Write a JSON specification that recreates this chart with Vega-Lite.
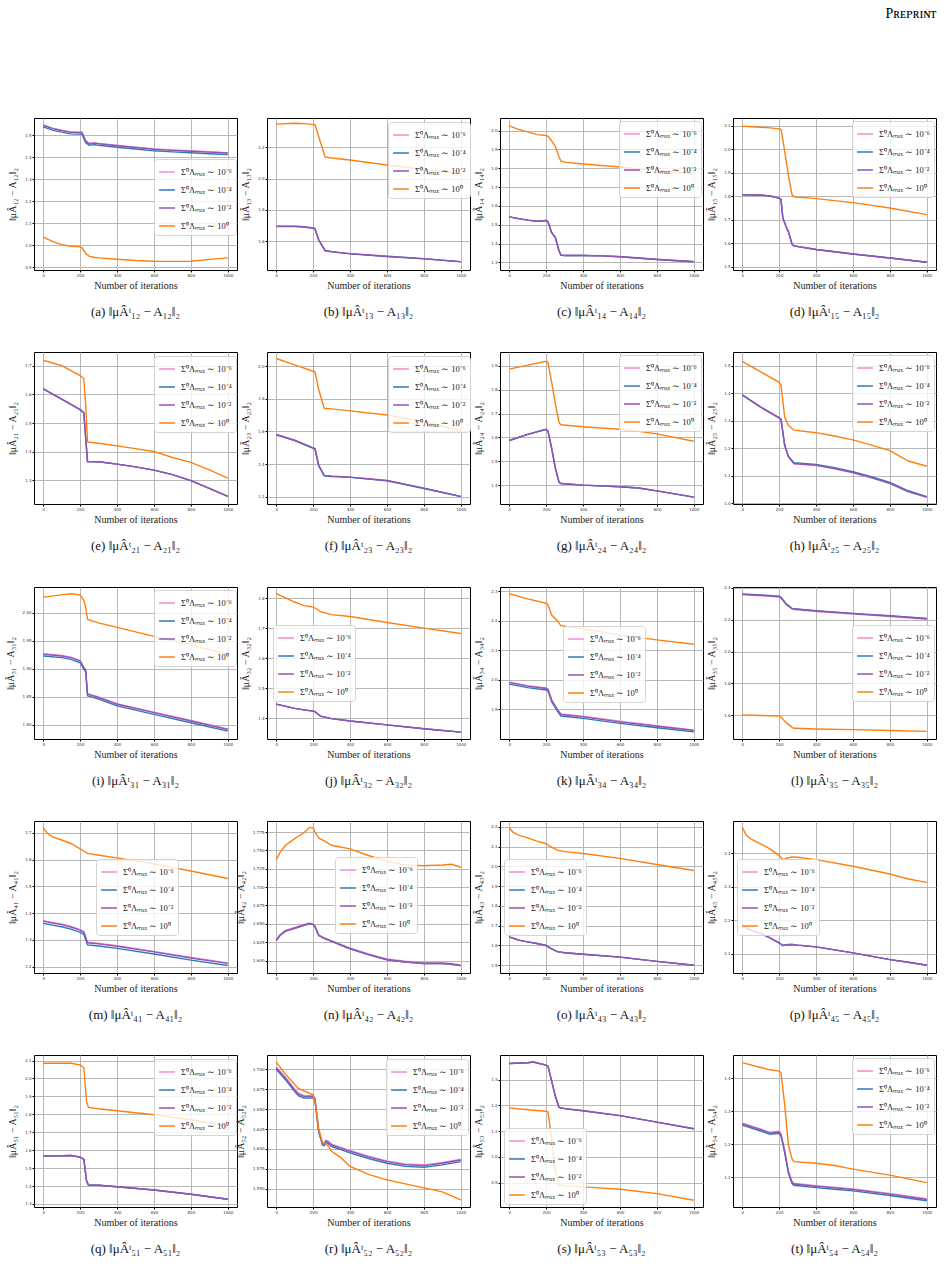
{
  "$schema": "https://vega.github.io/schema/vega-lite/v6.json",
  "padding": {"left": 4, "top": 6, "right": 8, "bottom": 0},
  "background": "white",
  "spacing": 31,
  "title": {"text": "Pʀᴇᴘʀɪɴᴛ", "orient": "top", "anchor": "end", "fontSize": 14, "offset": 97, "color": "#000"},
  "resolve": {"scale": {"color": "independent"}, "legend": {"color": "independent"}},
  "data": {"values": [
    {"p":"a","x":0,"s6":1.547,"s4":1.538,"s2":1.545,"s0":1.037},
    {"p":"a","x":50,"s6":1.532,"s4":1.523,"s2":1.530,"s0":1.018},
    {"p":"a","x":100,"s6":1.523,"s4":1.514,"s2":1.521,"s0":1.003},
    {"p":"a","x":150,"s6":1.515,"s4":1.506,"s2":1.513,"s0":0.996},
    {"p":"a","x":200,"s6":1.514,"s4":1.505,"s2":1.512,"s0":0.993},
    {"p":"a","x":210,"s6":1.514,"s4":1.505,"s2":1.512,"s0":0.990},
    {"p":"a","x":230,"s6":1.475,"s4":1.466,"s2":1.473,"s0":0.963},
    {"p":"a","x":250,"s6":1.463,"s4":1.454,"s2":1.461,"s0":0.950},
    {"p":"a","x":280,"s6":1.466,"s4":1.457,"s2":1.464,"s0":0.945},
    {"p":"a","x":300,"s6":1.463,"s4":1.454,"s2":1.461,"s0":0.943},
    {"p":"a","x":400,"s6":1.454,"s4":1.445,"s2":1.452,"s0":0.937},
    {"p":"a","x":500,"s6":1.446,"s4":1.437,"s2":1.444,"s0":0.931},
    {"p":"a","x":600,"s6":1.438,"s4":1.429,"s2":1.436,"s0":0.928},
    {"p":"a","x":700,"s6":1.433,"s4":1.424,"s2":1.431,"s0":0.927},
    {"p":"a","x":800,"s6":1.429,"s4":1.420,"s2":1.427,"s0":0.928},
    {"p":"a","x":900,"s6":1.425,"s4":1.416,"s2":1.423,"s0":0.936},
    {"p":"a","x":1000,"s6":1.421,"s4":1.412,"s2":1.419,"s0":0.943},

    {"p":"b","x":0,"s6":1.695,"s4":1.693,"s2":1.695,"s0":2.350},
    {"p":"b","x":100,"s6":1.695,"s4":1.693,"s2":1.695,"s0":2.355},
    {"p":"b","x":150,"s6":1.692,"s4":1.690,"s2":1.692,"s0":2.353},
    {"p":"b","x":200,"s6":1.684,"s4":1.682,"s2":1.684,"s0":2.348},
    {"p":"b","x":210,"s6":1.680,"s4":1.678,"s2":1.680,"s0":2.346},
    {"p":"b","x":230,"s6":1.609,"s4":1.607,"s2":1.609,"s0":2.270},
    {"p":"b","x":265,"s6":1.540,"s4":1.538,"s2":1.540,"s0":2.140},
    {"p":"b","x":300,"s6":1.533,"s4":1.531,"s2":1.533,"s0":2.133},
    {"p":"b","x":400,"s6":1.520,"s4":1.518,"s2":1.520,"s0":2.120},
    {"p":"b","x":600,"s6":1.503,"s4":1.501,"s2":1.503,"s0":2.088},
    {"p":"b","x":800,"s6":1.488,"s4":1.486,"s2":1.488,"s0":2.060},
    {"p":"b","x":1000,"s6":1.469,"s4":1.467,"s2":1.469,"s0":2.032},

    {"p":"c","x":0,"s6":1.542,"s4":1.542,"s2":1.542,"s0":2.025},
    {"p":"c","x":50,"s6":1.533,"s4":1.533,"s2":1.533,"s0":2.007},
    {"p":"c","x":100,"s6":1.525,"s4":1.525,"s2":1.525,"s0":1.993},
    {"p":"c","x":150,"s6":1.519,"s4":1.519,"s2":1.519,"s0":1.979},
    {"p":"c","x":200,"s6":1.523,"s4":1.523,"s2":1.523,"s0":1.974},
    {"p":"c","x":210,"s6":1.516,"s4":1.516,"s2":1.516,"s0":1.970},
    {"p":"c","x":230,"s6":1.458,"s4":1.458,"s2":1.458,"s0":1.945},
    {"p":"c","x":250,"s6":1.432,"s4":1.432,"s2":1.432,"s0":1.915},
    {"p":"c","x":270,"s6":1.361,"s4":1.361,"s2":1.361,"s0":1.860},
    {"p":"c","x":280,"s6":1.339,"s4":1.339,"s2":1.339,"s0":1.839},
    {"p":"c","x":300,"s6":1.337,"s4":1.337,"s2":1.337,"s0":1.833},
    {"p":"c","x":400,"s6":1.337,"s4":1.337,"s2":1.337,"s0":1.823},
    {"p":"c","x":500,"s6":1.336,"s4":1.335,"s2":1.335,"s0":1.815},
    {"p":"c","x":600,"s6":1.332,"s4":1.330,"s2":1.330,"s0":1.807},
    {"p":"c","x":800,"s6":1.318,"s4":1.316,"s2":1.316,"s0":1.789},
    {"p":"c","x":1000,"s6":1.305,"s4":1.304,"s2":1.304,"s0":1.770},

    {"p":"d","x":0,"s6":1.806,"s4":1.806,"s2":1.806,"s0":2.097},
    {"p":"d","x":100,"s6":1.805,"s4":1.805,"s2":1.805,"s0":2.093},
    {"p":"d","x":150,"s6":1.801,"s4":1.801,"s2":1.801,"s0":2.090},
    {"p":"d","x":200,"s6":1.792,"s4":1.792,"s2":1.792,"s0":2.086},
    {"p":"d","x":210,"s6":1.787,"s4":1.787,"s2":1.787,"s0":2.083},
    {"p":"d","x":220,"s6":1.708,"s4":1.708,"s2":1.708,"s0":2.040},
    {"p":"d","x":240,"s6":1.666,"s4":1.666,"s2":1.666,"s0":1.940},
    {"p":"d","x":250,"s6":1.650,"s4":1.650,"s2":1.650,"s0":1.890},
    {"p":"d","x":270,"s6":1.597,"s4":1.597,"s2":1.597,"s0":1.806},
    {"p":"d","x":280,"s6":1.589,"s4":1.589,"s2":1.589,"s0":1.798},
    {"p":"d","x":400,"s6":1.574,"s4":1.574,"s2":1.574,"s0":1.790},
    {"p":"d","x":600,"s6":1.555,"s4":1.555,"s2":1.555,"s0":1.773},
    {"p":"d","x":800,"s6":1.538,"s4":1.538,"s2":1.538,"s0":1.750},
    {"p":"d","x":1000,"s6":1.520,"s4":1.520,"s2":1.520,"s0":1.722},

    {"p":"e","x":0,"s6":1.620,"s4":1.620,"s2":1.620,"s0":1.720},
    {"p":"e","x":100,"s6":1.584,"s4":1.584,"s2":1.584,"s0":1.701},
    {"p":"e","x":200,"s6":1.547,"s4":1.547,"s2":1.547,"s0":1.666},
    {"p":"e","x":220,"s6":1.536,"s4":1.536,"s2":1.536,"s0":1.656},
    {"p":"e","x":230,"s6":1.449,"s4":1.449,"s2":1.449,"s0":1.565},
    {"p":"e","x":240,"s6":1.365,"s4":1.365,"s2":1.365,"s0":1.434},
    {"p":"e","x":300,"s6":1.364,"s4":1.364,"s2":1.364,"s0":1.429},
    {"p":"e","x":400,"s6":1.356,"s4":1.356,"s2":1.356,"s0":1.420},
    {"p":"e","x":500,"s6":1.346,"s4":1.346,"s2":1.346,"s0":1.410},
    {"p":"e","x":600,"s6":1.335,"s4":1.335,"s2":1.335,"s0":1.400},
    {"p":"e","x":700,"s6":1.319,"s4":1.319,"s2":1.319,"s0":1.379},
    {"p":"e","x":800,"s6":1.298,"s4":1.298,"s2":1.298,"s0":1.362},
    {"p":"e","x":900,"s6":1.271,"s4":1.271,"s2":1.271,"s0":1.336},
    {"p":"e","x":1000,"s6":1.243,"s4":1.243,"s2":1.243,"s0":1.307},

    {"p":"f","x":0,"s6":1.581,"s4":1.579,"s2":1.581,"s0":2.047},
    {"p":"f","x":100,"s6":1.546,"s4":1.544,"s2":1.546,"s0":2.008},
    {"p":"f","x":200,"s6":1.499,"s4":1.497,"s2":1.499,"s0":1.969},
    {"p":"f","x":210,"s6":1.495,"s4":1.493,"s2":1.495,"s0":1.965},
    {"p":"f","x":230,"s6":1.392,"s4":1.390,"s2":1.392,"s0":1.856},
    {"p":"f","x":260,"s6":1.330,"s4":1.328,"s2":1.330,"s0":1.742},
    {"p":"f","x":300,"s6":1.326,"s4":1.324,"s2":1.326,"s0":1.738},
    {"p":"f","x":400,"s6":1.320,"s4":1.318,"s2":1.320,"s0":1.726},
    {"p":"f","x":600,"s6":1.299,"s4":1.297,"s2":1.299,"s0":1.701},
    {"p":"f","x":800,"s6":1.252,"s4":1.250,"s2":1.252,"s0":1.660},
    {"p":"f","x":1000,"s6":1.202,"s4":1.200,"s2":1.202,"s0":1.604},

    {"p":"g","x":0,"s6":1.587,"s4":1.587,"s2":1.587,"s0":1.886},
    {"p":"g","x":100,"s6":1.613,"s4":1.613,"s2":1.613,"s0":1.903},
    {"p":"g","x":200,"s6":1.634,"s4":1.634,"s2":1.634,"s0":1.919},
    {"p":"g","x":210,"s6":1.626,"s4":1.626,"s2":1.626,"s0":1.914},
    {"p":"g","x":230,"s6":1.554,"s4":1.554,"s2":1.554,"s0":1.831},
    {"p":"g","x":250,"s6":1.471,"s4":1.471,"s2":1.471,"s0":1.741},
    {"p":"g","x":270,"s6":1.412,"s4":1.412,"s2":1.412,"s0":1.662},
    {"p":"g","x":280,"s6":1.407,"s4":1.407,"s2":1.407,"s0":1.653},
    {"p":"g","x":400,"s6":1.400,"s4":1.400,"s2":1.400,"s0":1.645},
    {"p":"g","x":600,"s6":1.393,"s4":1.393,"s2":1.393,"s0":1.634},
    {"p":"g","x":700,"s6":1.388,"s4":1.388,"s2":1.388,"s0":1.626},
    {"p":"g","x":800,"s6":1.376,"s4":1.376,"s2":1.376,"s0":1.615},
    {"p":"g","x":1000,"s6":1.350,"s4":1.350,"s2":1.350,"s0":1.584},

    {"p":"h","x":0,"s6":1.394,"s4":1.394,"s2":1.394,"s0":1.516},
    {"p":"h","x":100,"s6":1.350,"s4":1.350,"s2":1.350,"s0":1.478},
    {"p":"h","x":200,"s6":1.311,"s4":1.311,"s2":1.311,"s0":1.440},
    {"p":"h","x":210,"s6":1.305,"s4":1.305,"s2":1.305,"s0":1.430},
    {"p":"h","x":230,"s6":1.212,"s4":1.212,"s2":1.212,"s0":1.314},
    {"p":"h","x":250,"s6":1.170,"s4":1.171,"s2":1.170,"s0":1.284},
    {"p":"h","x":280,"s6":1.144,"s4":1.148,"s2":1.145,"s0":1.266},
    {"p":"h","x":400,"s6":1.138,"s4":1.142,"s2":1.139,"s0":1.257},
    {"p":"h","x":500,"s6":1.126,"s4":1.130,"s2":1.127,"s0":1.245},
    {"p":"h","x":600,"s6":1.111,"s4":1.115,"s2":1.112,"s0":1.231},
    {"p":"h","x":700,"s6":1.093,"s4":1.097,"s2":1.094,"s0":1.212},
    {"p":"h","x":800,"s6":1.072,"s4":1.076,"s2":1.073,"s0":1.192},
    {"p":"h","x":900,"s6":1.042,"s4":1.046,"s2":1.043,"s0":1.154},
    {"p":"h","x":1000,"s6":1.022,"s4":1.025,"s2":1.023,"s0":1.135},

    {"p":"i","x":0,"s6":1.927,"s4":1.923,"s2":1.926,"s0":2.028},
    {"p":"i","x":100,"s6":1.924,"s4":1.920,"s2":1.923,"s0":2.032},
    {"p":"i","x":150,"s6":1.921,"s4":1.917,"s2":1.920,"s0":2.034},
    {"p":"i","x":200,"s6":1.915,"s4":1.911,"s2":1.914,"s0":2.032},
    {"p":"i","x":220,"s6":1.903,"s4":1.899,"s2":1.902,"s0":2.022},
    {"p":"i","x":230,"s6":1.899,"s4":1.895,"s2":1.898,"s0":2.010},
    {"p":"i","x":240,"s6":1.856,"s4":1.852,"s2":1.855,"s0":1.988},
    {"p":"i","x":300,"s6":1.850,"s4":1.846,"s2":1.849,"s0":1.982},
    {"p":"i","x":400,"s6":1.838,"s4":1.834,"s2":1.837,"s0":1.974},
    {"p":"i","x":600,"s6":1.823,"s4":1.819,"s2":1.822,"s0":1.958},
    {"p":"i","x":800,"s6":1.808,"s4":1.804,"s2":1.807,"s0":1.943},
    {"p":"i","x":1000,"s6":1.793,"s4":1.789,"s2":1.792,"s0":1.926},

    {"p":"j","x":0,"s6":1.447,"s4":1.447,"s2":1.447,"s0":1.815},
    {"p":"j","x":100,"s6":1.433,"s4":1.433,"s2":1.433,"s0":1.787},
    {"p":"j","x":150,"s6":1.428,"s4":1.428,"s2":1.428,"s0":1.775},
    {"p":"j","x":200,"s6":1.424,"s4":1.424,"s2":1.424,"s0":1.770},
    {"p":"j","x":210,"s6":1.422,"s4":1.422,"s2":1.422,"s0":1.767},
    {"p":"j","x":240,"s6":1.407,"s4":1.407,"s2":1.407,"s0":1.755},
    {"p":"j","x":300,"s6":1.399,"s4":1.399,"s2":1.399,"s0":1.745},
    {"p":"j","x":400,"s6":1.391,"s4":1.391,"s2":1.391,"s0":1.739},
    {"p":"j","x":600,"s6":1.378,"s4":1.378,"s2":1.378,"s0":1.719},
    {"p":"j","x":800,"s6":1.365,"s4":1.365,"s2":1.365,"s0":1.700},
    {"p":"j","x":1000,"s6":1.354,"s4":1.354,"s2":1.354,"s0":1.682},

    {"p":"k","x":0,"s6":1.992,"s4":1.985,"s2":1.990,"s0":2.291},
    {"p":"k","x":100,"s6":1.980,"s4":1.973,"s2":1.978,"s0":2.274},
    {"p":"k","x":200,"s6":1.972,"s4":1.965,"s2":1.970,"s0":2.259},
    {"p":"k","x":210,"s6":1.969,"s4":1.962,"s2":1.967,"s0":2.253},
    {"p":"k","x":230,"s6":1.932,"s4":1.925,"s2":1.930,"s0":2.219},
    {"p":"k","x":260,"s6":1.901,"s4":1.894,"s2":1.899,"s0":2.200},
    {"p":"k","x":280,"s6":1.884,"s4":1.877,"s2":1.882,"s0":2.183},
    {"p":"k","x":400,"s6":1.876,"s4":1.869,"s2":1.874,"s0":2.172},
    {"p":"k","x":600,"s6":1.859,"s4":1.852,"s2":1.857,"s0":2.151},
    {"p":"k","x":800,"s6":1.844,"s4":1.837,"s2":1.842,"s0":2.135},
    {"p":"k","x":1000,"s6":1.830,"s4":1.823,"s2":1.828,"s0":2.120},

    {"p":"l","x":0,"s6":2.355,"s4":2.360,"s2":2.358,"s0":1.603},
    {"p":"l","x":100,"s6":2.349,"s4":2.354,"s2":2.352,"s0":1.599},
    {"p":"l","x":200,"s6":2.341,"s4":2.346,"s2":2.344,"s0":1.595},
    {"p":"l","x":210,"s6":2.334,"s4":2.339,"s2":2.337,"s0":1.590},
    {"p":"l","x":240,"s6":2.292,"s4":2.297,"s2":2.295,"s0":1.553},
    {"p":"l","x":270,"s6":2.265,"s4":2.270,"s2":2.268,"s0":1.525},
    {"p":"l","x":280,"s6":2.263,"s4":2.268,"s2":2.266,"s0":1.519},
    {"p":"l","x":400,"s6":2.251,"s4":2.256,"s2":2.254,"s0":1.515},
    {"p":"l","x":600,"s6":2.234,"s4":2.239,"s2":2.237,"s0":1.511},
    {"p":"l","x":800,"s6":2.219,"s4":2.224,"s2":2.222,"s0":1.505},
    {"p":"l","x":1000,"s6":2.202,"s4":2.207,"s2":2.205,"s0":1.500},

    {"p":"m","x":0,"s6":1.372,"s4":1.362,"s2":1.370,"s0":1.719},
    {"p":"m","x":20,"s6":1.369,"s4":1.359,"s2":1.367,"s0":1.700},
    {"p":"m","x":50,"s6":1.365,"s4":1.355,"s2":1.363,"s0":1.685},
    {"p":"m","x":100,"s6":1.359,"s4":1.349,"s2":1.357,"s0":1.673},
    {"p":"m","x":150,"s6":1.350,"s4":1.340,"s2":1.348,"s0":1.660},
    {"p":"m","x":200,"s6":1.338,"s4":1.328,"s2":1.336,"s0":1.640},
    {"p":"m","x":220,"s6":1.330,"s4":1.320,"s2":1.328,"s0":1.632},
    {"p":"m","x":240,"s6":1.291,"s4":1.281,"s2":1.289,"s0":1.623},
    {"p":"m","x":300,"s6":1.287,"s4":1.277,"s2":1.285,"s0":1.616},
    {"p":"m","x":400,"s6":1.278,"s4":1.268,"s2":1.276,"s0":1.606},
    {"p":"m","x":600,"s6":1.257,"s4":1.247,"s2":1.255,"s0":1.584},
    {"p":"m","x":800,"s6":1.234,"s4":1.224,"s2":1.232,"s0":1.557},
    {"p":"m","x":1000,"s6":1.214,"s4":1.204,"s2":1.212,"s0":1.529},

    {"p":"n","x":0,"s6":1.628,"s4":1.627,"s2":1.627,"s0":1.737},
    {"p":"n","x":20,"s6":1.635,"s4":1.634,"s2":1.634,"s0":1.747},
    {"p":"n","x":50,"s6":1.641,"s4":1.640,"s2":1.640,"s0":1.757},
    {"p":"n","x":100,"s6":1.645,"s4":1.644,"s2":1.644,"s0":1.766},
    {"p":"n","x":150,"s6":1.649,"s4":1.648,"s2":1.648,"s0":1.774},
    {"p":"n","x":180,"s6":1.651,"s4":1.650,"s2":1.650,"s0":1.781},
    {"p":"n","x":200,"s6":1.650,"s4":1.649,"s2":1.649,"s0":1.781},
    {"p":"n","x":210,"s6":1.647,"s4":1.646,"s2":1.646,"s0":1.775},
    {"p":"n","x":230,"s6":1.635,"s4":1.634,"s2":1.634,"s0":1.767},
    {"p":"n","x":260,"s6":1.631,"s4":1.630,"s2":1.630,"s0":1.763},
    {"p":"n","x":300,"s6":1.627,"s4":1.626,"s2":1.626,"s0":1.757},
    {"p":"n","x":400,"s6":1.617,"s4":1.616,"s2":1.616,"s0":1.752},
    {"p":"n","x":500,"s6":1.609,"s4":1.608,"s2":1.608,"s0":1.743},
    {"p":"n","x":600,"s6":1.602,"s4":1.601,"s2":1.601,"s0":1.735},
    {"p":"n","x":700,"s6":1.599,"s4":1.598,"s2":1.598,"s0":1.730},
    {"p":"n","x":800,"s6":1.597,"s4":1.596,"s2":1.596,"s0":1.729},
    {"p":"n","x":900,"s6":1.597,"s4":1.596,"s2":1.596,"s0":1.730},
    {"p":"n","x":950,"s6":1.596,"s4":1.595,"s2":1.595,"s0":1.731},
    {"p":"n","x":1000,"s6":1.594,"s4":1.593,"s2":1.593,"s0":1.727},

    {"p":"o","x":0,"s6":1.643,"s4":1.643,"s2":1.643,"s0":2.195},
    {"p":"o","x":20,"s6":1.637,"s4":1.637,"s2":1.637,"s0":2.173},
    {"p":"o","x":50,"s6":1.627,"s4":1.627,"s2":1.627,"s0":2.158},
    {"p":"o","x":100,"s6":1.618,"s4":1.618,"s2":1.618,"s0":2.144},
    {"p":"o","x":150,"s6":1.610,"s4":1.610,"s2":1.610,"s0":2.127},
    {"p":"o","x":200,"s6":1.600,"s4":1.600,"s2":1.600,"s0":2.114},
    {"p":"o","x":220,"s6":1.588,"s4":1.588,"s2":1.588,"s0":2.102},
    {"p":"o","x":260,"s6":1.569,"s4":1.569,"s2":1.569,"s0":2.082},
    {"p":"o","x":300,"s6":1.563,"s4":1.563,"s2":1.563,"s0":2.074},
    {"p":"o","x":400,"s6":1.556,"s4":1.556,"s2":1.556,"s0":2.065},
    {"p":"o","x":600,"s6":1.541,"s4":1.541,"s2":1.541,"s0":2.040},
    {"p":"o","x":800,"s6":1.520,"s4":1.520,"s2":1.520,"s0":2.009},
    {"p":"o","x":1000,"s6":1.500,"s4":1.500,"s2":1.500,"s0":1.979},

    {"p":"p","x":0,"s6":2.183,"s4":2.183,"s2":2.183,"s0":2.478},
    {"p":"p","x":20,"s6":2.178,"s4":2.178,"s2":2.178,"s0":2.455},
    {"p":"p","x":50,"s6":2.170,"s4":2.170,"s2":2.170,"s0":2.441},
    {"p":"p","x":100,"s6":2.161,"s4":2.161,"s2":2.161,"s0":2.428},
    {"p":"p","x":150,"s6":2.148,"s4":2.148,"s2":2.148,"s0":2.413},
    {"p":"p","x":200,"s6":2.133,"s4":2.133,"s2":2.133,"s0":2.393},
    {"p":"p","x":220,"s6":2.125,"s4":2.125,"s2":2.125,"s0":2.381},
    {"p":"p","x":240,"s6":2.127,"s4":2.127,"s2":2.127,"s0":2.385},
    {"p":"p","x":270,"s6":2.128,"s4":2.128,"s2":2.128,"s0":2.389},
    {"p":"p","x":300,"s6":2.126,"s4":2.126,"s2":2.126,"s0":2.388},
    {"p":"p","x":400,"s6":2.121,"s4":2.121,"s2":2.121,"s0":2.381},
    {"p":"p","x":600,"s6":2.103,"s4":2.103,"s2":2.103,"s0":2.361},
    {"p":"p","x":800,"s6":2.083,"s4":2.083,"s2":2.083,"s0":2.338},
    {"p":"p","x":900,"s6":2.075,"s4":2.075,"s2":2.075,"s0":2.323},
    {"p":"p","x":1000,"s6":2.066,"s4":2.066,"s2":2.066,"s0":2.313},

    {"p":"q","x":0,"s6":1.567,"s4":1.567,"s2":1.567,"s0":2.085},
    {"p":"q","x":150,"s6":1.570,"s4":1.570,"s2":1.570,"s0":2.085},
    {"p":"q","x":200,"s6":1.561,"s4":1.561,"s2":1.561,"s0":2.076},
    {"p":"q","x":220,"s6":1.548,"s4":1.548,"s2":1.548,"s0":2.061},
    {"p":"q","x":235,"s6":1.428,"s4":1.428,"s2":1.428,"s0":1.872},
    {"p":"q","x":245,"s6":1.406,"s4":1.406,"s2":1.406,"s0":1.839},
    {"p":"q","x":300,"s6":1.404,"s4":1.404,"s2":1.404,"s0":1.831},
    {"p":"q","x":400,"s6":1.396,"s4":1.396,"s2":1.396,"s0":1.820},
    {"p":"q","x":600,"s6":1.378,"s4":1.378,"s2":1.378,"s0":1.798},
    {"p":"q","x":800,"s6":1.354,"s4":1.354,"s2":1.354,"s0":1.770},
    {"p":"q","x":1000,"s6":1.326,"s4":1.326,"s2":1.326,"s0":1.733},

    {"p":"r","x":0,"s6":1.703,"s4":1.700,"s2":1.702,"s0":1.709},
    {"p":"r","x":50,"s6":1.690,"s4":1.687,"s2":1.689,"s0":1.694},
    {"p":"r","x":100,"s6":1.675,"s4":1.672,"s2":1.674,"s0":1.681},
    {"p":"r","x":120,"s6":1.670,"s4":1.667,"s2":1.669,"s0":1.676},
    {"p":"r","x":150,"s6":1.667,"s4":1.664,"s2":1.666,"s0":1.673},
    {"p":"r","x":200,"s6":1.667,"s4":1.664,"s2":1.666,"s0":1.668},
    {"p":"r","x":210,"s6":1.664,"s4":1.661,"s2":1.663,"s0":1.659},
    {"p":"r","x":230,"s6":1.624,"s4":1.621,"s2":1.623,"s0":1.625},
    {"p":"r","x":250,"s6":1.608,"s4":1.605,"s2":1.607,"s0":1.608},
    {"p":"r","x":260,"s6":1.607,"s4":1.604,"s2":1.606,"s0":1.607},
    {"p":"r","x":270,"s6":1.611,"s4":1.608,"s2":1.610,"s0":1.607},
    {"p":"r","x":280,"s6":1.610,"s4":1.607,"s2":1.609,"s0":1.604},
    {"p":"r","x":300,"s6":1.606,"s4":1.603,"s2":1.605,"s0":1.597},
    {"p":"r","x":350,"s6":1.602,"s4":1.599,"s2":1.601,"s0":1.589},
    {"p":"r","x":400,"s6":1.598,"s4":1.595,"s2":1.597,"s0":1.578},
    {"p":"r","x":500,"s6":1.591,"s4":1.588,"s2":1.590,"s0":1.568},
    {"p":"r","x":600,"s6":1.585,"s4":1.582,"s2":1.584,"s0":1.561},
    {"p":"r","x":700,"s6":1.581,"s4":1.578,"s2":1.580,"s0":1.556},
    {"p":"r","x":800,"s6":1.580,"s4":1.577,"s2":1.579,"s0":1.551},
    {"p":"r","x":900,"s6":1.583,"s4":1.580,"s2":1.582,"s0":1.546},
    {"p":"r","x":1000,"s6":1.587,"s4":1.584,"s2":1.586,"s0":1.536},

    {"p":"s","x":0,"s6":1.362,"s4":1.362,"s2":1.362,"s0":1.190},
    {"p":"s","x":100,"s6":1.365,"s4":1.365,"s2":1.365,"s0":1.183},
    {"p":"s","x":130,"s6":1.368,"s4":1.368,"s2":1.368,"s0":1.181},
    {"p":"s","x":200,"s6":1.356,"s4":1.356,"s2":1.356,"s0":1.177},
    {"p":"s","x":210,"s6":1.352,"s4":1.352,"s2":1.352,"s0":1.174},
    {"p":"s","x":230,"s6":1.294,"s4":1.294,"s2":1.294,"s0":1.073},
    {"p":"s","x":250,"s6":1.235,"s4":1.235,"s2":1.235,"s0":0.943},
    {"p":"s","x":270,"s6":1.192,"s4":1.192,"s2":1.192,"s0":0.891},
    {"p":"s","x":300,"s6":1.187,"s4":1.187,"s2":1.187,"s0":0.888},
    {"p":"s","x":400,"s6":1.179,"s4":1.179,"s2":1.179,"s0":0.884},
    {"p":"s","x":600,"s6":1.160,"s4":1.160,"s2":1.160,"s0":0.875},
    {"p":"s","x":800,"s6":1.135,"s4":1.135,"s2":1.135,"s0":0.858},
    {"p":"s","x":1000,"s6":1.109,"s4":1.109,"s2":1.109,"s0":0.832},

    {"p":"t","x":0,"s6":1.264,"s4":1.258,"s2":1.262,"s0":1.448},
    {"p":"t","x":100,"s6":1.246,"s4":1.240,"s2":1.244,"s0":1.433},
    {"p":"t","x":150,"s6":1.236,"s4":1.230,"s2":1.234,"s0":1.426},
    {"p":"t","x":200,"s6":1.239,"s4":1.233,"s2":1.237,"s0":1.422},
    {"p":"t","x":210,"s6":1.231,"s4":1.225,"s2":1.229,"s0":1.417},
    {"p":"t","x":230,"s6":1.180,"s4":1.174,"s2":1.178,"s0":1.320},
    {"p":"t","x":250,"s6":1.118,"s4":1.112,"s2":1.116,"s0":1.198},
    {"p":"t","x":270,"s6":1.086,"s4":1.080,"s2":1.084,"s0":1.155},
    {"p":"t","x":280,"s6":1.081,"s4":1.075,"s2":1.079,"s0":1.147},
    {"p":"t","x":400,"s6":1.074,"s4":1.068,"s2":1.072,"s0":1.142},
    {"p":"t","x":500,"s6":1.069,"s4":1.063,"s2":1.067,"s0":1.135},
    {"p":"t","x":600,"s6":1.064,"s4":1.058,"s2":1.062,"s0":1.124},
    {"p":"t","x":800,"s6":1.050,"s4":1.044,"s2":1.048,"s0":1.106},
    {"p":"t","x":1000,"s6":1.034,"s4":1.028,"s2":1.032,"s0":1.083}
  ]},
  "vconcat": [
    {"hconcat": [
      {"width":203,"height":152,"title":"(a) ‖μÂᵗ₁₂ − A₁₂‖₂",
       "transform":[{"filter":"datum.p=='a'"},{"fold":["s6","s4","s2","s0"],"as":["k","v"]}],
       "mark":{"type":"line","strokeWidth":1.4},
       "encoding":{
        "x":{"field":"x","type":"quantitative","scale":{"domain":[-50,1050],"nice":false},"axis":{"values":[0,200,400,600,800,1000],"format":"d","title":"Number of iterations"}},
        "y":{"field":"v","type":"quantitative","scale":{"domain":[0.888,1.578],"nice":false,"zero":false},"axis":{"values":[0.9,1.0,1.1,1.2,1.3,1.4,1.5],"format":".1f","title":"‖μÂ₁₂ − A₁₂‖₂"}},
        "color":{"field":"k","type":"nominal","scale":{"domain":["s6","s4","s2","s0"],"range":["#f28cd0","#2f78b8","#9055b5","#ff7f0e"]},
         "legend":{"orient":"none","legendX":120,"legendY":41,"title":null,"labelExpr":"datum.label=='s6'?'Σ⁰Λₘₐₓ ∼ 10⁻⁶':datum.label=='s4'?'Σ⁰Λₘₐₓ ∼ 10⁻⁴':datum.label=='s2'?'Σ⁰Λₘₐₓ ∼ 10⁻²':'Σ⁰Λₘₐₓ ∼ 10⁰'"}}}},
      {"width":203,"height":152,"title":"(b) ‖μÂᵗ₁₃ − A₁₃‖₂",
       "transform":[{"filter":"datum.p=='b'"},{"fold":["s6","s4","s2","s0"],"as":["k","v"]}],
       "mark":{"type":"line","strokeWidth":1.4},
       "encoding":{
        "x":{"field":"x","type":"quantitative","scale":{"domain":[-50,1050],"nice":false},"axis":{"values":[0,200,400,600,800,1000],"format":"d","title":"Number of iterations"}},
        "y":{"field":"v","type":"quantitative","scale":{"domain":[1.415,2.389],"nice":false,"zero":false},"axis":{"values":[1.6,1.8,2.0,2.2],"format":".1f","title":"‖μÂ₁₃ − A₁₃‖₂"}},
        "color":{"field":"k","type":"nominal","scale":{"domain":["s6","s4","s2","s0"],"range":["#f28cd0","#2f78b8","#9055b5","#ff7f0e"]},
         "legend":{"orient":"none","legendX":121,"legendY":4,"title":null,"labelExpr":"datum.label=='s6'?'Σ⁰Λₘₐₓ ∼ 10⁻⁶':datum.label=='s4'?'Σ⁰Λₘₐₓ ∼ 10⁻⁴':datum.label=='s2'?'Σ⁰Λₘₐₓ ∼ 10⁻²':'Σ⁰Λₘₐₓ ∼ 10⁰'"}}}},
      {"width":203,"height":152,"title":"(c) ‖μÂᵗ₁₄ − A₁₄‖₂",
       "transform":[{"filter":"datum.p=='c'"},{"fold":["s6","s4","s2","s0"],"as":["k","v"]}],
       "mark":{"type":"line","strokeWidth":1.4},
       "encoding":{
        "x":{"field":"x","type":"quantitative","scale":{"domain":[-50,1050],"nice":false},"axis":{"values":[0,200,400,600,800,1000],"format":"d","title":"Number of iterations"}},
        "y":{"field":"v","type":"quantitative","scale":{"domain":[1.26,2.067],"nice":false,"zero":false},"axis":{"values":[1.3,1.4,1.5,1.6,1.7,1.8,1.9,2.0],"format":".1f","title":"‖μÂ₁₄ − A₁₄‖₂"}},
        "color":{"field":"k","type":"nominal","scale":{"domain":["s6","s4","s2","s0"],"range":["#f28cd0","#2f78b8","#9055b5","#ff7f0e"]},
         "legend":{"orient":"none","legendX":119,"legendY":3,"title":null,"labelExpr":"datum.label=='s6'?'Σ⁰Λₘₐₓ ∼ 10⁻⁶':datum.label=='s4'?'Σ⁰Λₘₐₓ ∼ 10⁻⁴':datum.label=='s2'?'Σ⁰Λₘₐₓ ∼ 10⁻²':'Σ⁰Λₘₐₓ ∼ 10⁰'"}}}},
      {"width":203,"height":152,"title":"(d) ‖μÂᵗ₁₅ − A₁₅‖₂",
       "transform":[{"filter":"datum.p=='d'"},{"fold":["s6","s4","s2","s0"],"as":["k","v"]}],
       "mark":{"type":"line","strokeWidth":1.4},
       "encoding":{
        "x":{"field":"x","type":"quantitative","scale":{"domain":[-50,1050],"nice":false},"axis":{"values":[0,200,400,600,800,1000],"format":"d","title":"Number of iterations"}},
        "y":{"field":"v","type":"quantitative","scale":{"domain":[1.487,2.132],"nice":false,"zero":false},"axis":{"values":[1.5,1.6,1.7,1.8,1.9,2.0,2.1],"format":".1f","title":"‖μÂ₁₅ − A₁₅‖₂"}},
        "color":{"field":"k","type":"nominal","scale":{"domain":["s6","s4","s2","s0"],"range":["#f28cd0","#2f78b8","#9055b5","#ff7f0e"]},
         "legend":{"orient":"none","legendX":119,"legendY":3,"title":null,"labelExpr":"datum.label=='s6'?'Σ⁰Λₘₐₓ ∼ 10⁻⁶':datum.label=='s4'?'Σ⁰Λₘₐₓ ∼ 10⁻⁴':datum.label=='s2'?'Σ⁰Λₘₐₓ ∼ 10⁻²':'Σ⁰Λₘₐₓ ∼ 10⁰'"}}}}
    ], "spacing": 30, "bounds": "flush", "resolve": {"scale": {"color": "independent"}, "legend": {"color": "independent"}}},
    {"hconcat": [
      {"width":203,"height":152,"title":"(e) ‖μÂᵗ₂₁ − A₂₁‖₂",
       "transform":[{"filter":"datum.p=='e'"},{"fold":["s6","s4","s2","s0"],"as":["k","v"]}],
       "mark":{"type":"line","strokeWidth":1.4},
       "encoding":{
        "x":{"field":"x","type":"quantitative","scale":{"domain":[-50,1050],"nice":false},"axis":{"values":[0,200,400,600,800,1000],"format":"d","title":"Number of iterations"}},
        "y":{"field":"v","type":"quantitative","scale":{"domain":[1.216,1.749],"nice":false,"zero":false},"axis":{"values":[1.3,1.4,1.5,1.6,1.7],"format":".1f","title":"‖μÂ₂₁ − A₂₁‖₂"}},
        "color":{"field":"k","type":"nominal","scale":{"domain":["s6","s4","s2","s0"],"range":["#f28cd0","#2f78b8","#9055b5","#ff7f0e"]},
         "legend":{"orient":"none","legendX":120,"legendY":4,"title":null,"labelExpr":"datum.label=='s6'?'Σ⁰Λₘₐₓ ∼ 10⁻⁶':datum.label=='s4'?'Σ⁰Λₘₐₓ ∼ 10⁻⁴':datum.label=='s2'?'Σ⁰Λₘₐₓ ∼ 10⁻²':'Σ⁰Λₘₐₓ ∼ 10⁰'"}}}},
      {"width":203,"height":152,"title":"(f) ‖μÂᵗ₂₃ − A₂₃‖₂",
       "transform":[{"filter":"datum.p=='f'"},{"fold":["s6","s4","s2","s0"],"as":["k","v"]}],
       "mark":{"type":"line","strokeWidth":1.4},
       "encoding":{
        "x":{"field":"x","type":"quantitative","scale":{"domain":[-50,1050],"nice":false},"axis":{"values":[0,200,400,600,800,1000],"format":"d","title":"Number of iterations"}},
        "y":{"field":"v","type":"quantitative","scale":{"domain":[1.155,2.087],"nice":false,"zero":false},"axis":{"values":[1.2,1.4,1.6,1.8,2.0],"format":".1f","title":"‖μÂ₂₃ − A₂₃‖₂"}},
        "color":{"field":"k","type":"nominal","scale":{"domain":["s6","s4","s2","s0"],"range":["#f28cd0","#2f78b8","#9055b5","#ff7f0e"]},
         "legend":{"orient":"none","legendX":121,"legendY":4,"title":null,"labelExpr":"datum.label=='s6'?'Σ⁰Λₘₐₓ ∼ 10⁻⁶':datum.label=='s4'?'Σ⁰Λₘₐₓ ∼ 10⁻⁴':datum.label=='s2'?'Σ⁰Λₘₐₓ ∼ 10⁻²':'Σ⁰Λₘₐₓ ∼ 10⁰'"}}}},
      {"width":203,"height":152,"title":"(g) ‖μÂᵗ₂₄ − A₂₄‖₂",
       "transform":[{"filter":"datum.p=='g'"},{"fold":["s6","s4","s2","s0"],"as":["k","v"]}],
       "mark":{"type":"line","strokeWidth":1.4},
       "encoding":{
        "x":{"field":"x","type":"quantitative","scale":{"domain":[-50,1050],"nice":false},"axis":{"values":[0,200,400,600,800,1000],"format":"d","title":"Number of iterations"}},
        "y":{"field":"v","type":"quantitative","scale":{"domain":[1.321,1.958],"nice":false,"zero":false},"axis":{"values":[1.4,1.5,1.6,1.7,1.8,1.9],"format":".1f","title":"‖μÂ₂₄ − A₂₄‖₂"}},
        "color":{"field":"k","type":"nominal","scale":{"domain":["s6","s4","s2","s0"],"range":["#f28cd0","#2f78b8","#9055b5","#ff7f0e"]},
         "legend":{"orient":"none","legendX":119,"legendY":3,"title":null,"labelExpr":"datum.label=='s6'?'Σ⁰Λₘₐₓ ∼ 10⁻⁶':datum.label=='s4'?'Σ⁰Λₘₐₓ ∼ 10⁻⁴':datum.label=='s2'?'Σ⁰Λₘₐₓ ∼ 10⁻²':'Σ⁰Λₘₐₓ ∼ 10⁰'"}}}},
      {"width":203,"height":152,"title":"(h) ‖μÂᵗ₂₅ − A₂₅‖₂",
       "transform":[{"filter":"datum.p=='h'"},{"fold":["s6","s4","s2","s0"],"as":["k","v"]}],
       "mark":{"type":"line","strokeWidth":1.4},
       "encoding":{
        "x":{"field":"x","type":"quantitative","scale":{"domain":[-50,1050],"nice":false},"axis":{"values":[0,200,400,600,800,1000],"format":"d","title":"Number of iterations"}},
        "y":{"field":"v","type":"quantitative","scale":{"domain":[0.998,1.55],"nice":false,"zero":false},"axis":{"values":[1.0,1.1,1.2,1.3,1.4,1.5],"format":".1f","title":"‖μÂ₂₅ − A₂₅‖₂"}},
        "color":{"field":"k","type":"nominal","scale":{"domain":["s6","s4","s2","s0"],"range":["#f28cd0","#2f78b8","#9055b5","#ff7f0e"]},
         "legend":{"orient":"none","legendX":119,"legendY":3,"title":null,"labelExpr":"datum.label=='s6'?'Σ⁰Λₘₐₓ ∼ 10⁻⁶':datum.label=='s4'?'Σ⁰Λₘₐₓ ∼ 10⁻⁴':datum.label=='s2'?'Σ⁰Λₘₐₓ ∼ 10⁻²':'Σ⁰Λₘₐₓ ∼ 10⁰'"}}}}
    ], "spacing": 30, "bounds": "flush", "resolve": {"scale": {"color": "independent"}, "legend": {"color": "independent"}}},
    {"hconcat": [
      {"width":203,"height":152,"title":"(i) ‖μÂᵗ₃₁ − A₃₁‖₂",
       "transform":[{"filter":"datum.p=='i'"},{"fold":["s6","s4","s2","s0"],"as":["k","v"]}],
       "mark":{"type":"line","strokeWidth":1.4},
       "encoding":{
        "x":{"field":"x","type":"quantitative","scale":{"domain":[-50,1050],"nice":false},"axis":{"values":[0,200,400,600,800,1000],"format":"d","title":"Number of iterations"}},
        "y":{"field":"v","type":"quantitative","scale":{"domain":[1.775,2.046],"nice":false,"zero":false},"axis":{"values":[1.8,1.85,1.9,1.95,2.0],"format":".2f","title":"‖μÂ₃₁ − A₃₁‖₂"}},
        "color":{"field":"k","type":"nominal","scale":{"domain":["s6","s4","s2","s0"],"range":["#f28cd0","#2f78b8","#9055b5","#ff7f0e"]},
         "legend":{"orient":"none","legendX":120,"legendY":3,"title":null,"labelExpr":"datum.label=='s6'?'Σ⁰Λₘₐₓ ∼ 10⁻⁶':datum.label=='s4'?'Σ⁰Λₘₐₓ ∼ 10⁻⁴':datum.label=='s2'?'Σ⁰Λₘₐₓ ∼ 10⁻²':'Σ⁰Λₘₐₓ ∼ 10⁰'"}}}},
      {"width":203,"height":152,"title":"(j) ‖μÂᵗ₃₂ − A₃₂‖₂",
       "transform":[{"filter":"datum.p=='j'"},{"fold":["s6","s4","s2","s0"],"as":["k","v"]}],
       "mark":{"type":"line","strokeWidth":1.4},
       "encoding":{
        "x":{"field":"x","type":"quantitative","scale":{"domain":[-50,1050],"nice":false},"axis":{"values":[0,200,400,600,800,1000],"format":"d","title":"Number of iterations"}},
        "y":{"field":"v","type":"quantitative","scale":{"domain":[1.331,1.837],"nice":false,"zero":false},"axis":{"values":[1.4,1.5,1.6,1.7,1.8],"format":".1f","title":"‖μÂ₃₂ − A₃₂‖₂"}},
        "color":{"field":"k","type":"nominal","scale":{"domain":["s6","s4","s2","s0"],"range":["#f28cd0","#2f78b8","#9055b5","#ff7f0e"]},
         "legend":{"orient":"none","legendX":6,"legendY":38,"title":null,"labelExpr":"datum.label=='s6'?'Σ⁰Λₘₐₓ ∼ 10⁻⁶':datum.label=='s4'?'Σ⁰Λₘₐₓ ∼ 10⁻⁴':datum.label=='s2'?'Σ⁰Λₘₐₓ ∼ 10⁻²':'Σ⁰Λₘₐₓ ∼ 10⁰'"}}}},
      {"width":203,"height":152,"title":"(k) ‖μÂᵗ₃₄ − A₃₄‖₂",
       "transform":[{"filter":"datum.p=='k'"},{"fold":["s6","s4","s2","s0"],"as":["k","v"]}],
       "mark":{"type":"line","strokeWidth":1.4},
       "encoding":{
        "x":{"field":"x","type":"quantitative","scale":{"domain":[-50,1050],"nice":false},"axis":{"values":[0,200,400,600,800,1000],"format":"d","title":"Number of iterations"}},
        "y":{"field":"v","type":"quantitative","scale":{"domain":[1.799,2.314],"nice":false,"zero":false},"axis":{"values":[1.9,2.0,2.1,2.2,2.3],"format":".1f","title":"‖μÂ₃₄ − A₃₄‖₂"}},
        "color":{"field":"k","type":"nominal","scale":{"domain":["s6","s4","s2","s0"],"range":["#f28cd0","#2f78b8","#9055b5","#ff7f0e"]},
         "legend":{"orient":"none","legendX":63,"legendY":39,"title":null,"labelExpr":"datum.label=='s6'?'Σ⁰Λₘₐₓ ∼ 10⁻⁶':datum.label=='s4'?'Σ⁰Λₘₐₓ ∼ 10⁻⁴':datum.label=='s2'?'Σ⁰Λₘₐₓ ∼ 10⁻²':'Σ⁰Λₘₐₓ ∼ 10⁰'"}}}},
      {"width":203,"height":152,"title":"(l) ‖μÂᵗ₃₅ − A₃₅‖₂",
       "transform":[{"filter":"datum.p=='l'"},{"fold":["s6","s4","s2","s0"],"as":["k","v"]}],
       "mark":{"type":"line","strokeWidth":1.4},
       "encoding":{
        "x":{"field":"x","type":"quantitative","scale":{"domain":[-50,1050],"nice":false},"axis":{"values":[0,200,400,600,800,1000],"format":"d","title":"Number of iterations"}},
        "y":{"field":"v","type":"quantitative","scale":{"domain":[1.452,2.404],"nice":false,"zero":false},"axis":{"values":[1.6,1.8,2.0,2.2,2.4],"format":".1f","title":"‖μÂ₃₅ − A₃₅‖₂"}},
        "color":{"field":"k","type":"nominal","scale":{"domain":["s6","s4","s2","s0"],"range":["#f28cd0","#2f78b8","#9055b5","#ff7f0e"]},
         "legend":{"orient":"none","legendX":119,"legendY":38,"title":null,"labelExpr":"datum.label=='s6'?'Σ⁰Λₘₐₓ ∼ 10⁻⁶':datum.label=='s4'?'Σ⁰Λₘₐₓ ∼ 10⁻⁴':datum.label=='s2'?'Σ⁰Λₘₐₓ ∼ 10⁻²':'Σ⁰Λₘₐₓ ∼ 10⁰'"}}}}
    ], "spacing": 30, "bounds": "flush", "resolve": {"scale": {"color": "independent"}, "legend": {"color": "independent"}}},
    {"hconcat": [
      {"width":203,"height":152,"title":"(m) ‖μÂᵗ₄₁ − A₄₁‖₂",
       "transform":[{"filter":"datum.p=='m'"},{"fold":["s6","s4","s2","s0"],"as":["k","v"]}],
       "mark":{"type":"line","strokeWidth":1.4},
       "encoding":{
        "x":{"field":"x","type":"quantitative","scale":{"domain":[-50,1050],"nice":false},"axis":{"values":[0,200,400,600,800,1000],"format":"d","title":"Number of iterations"}},
        "y":{"field":"v","type":"quantitative","scale":{"domain":[1.176,1.744],"nice":false,"zero":false},"axis":{"values":[1.2,1.3,1.4,1.5,1.6,1.7],"format":".1f","title":"‖μÂ₄₁ − A₄₁‖₂"}},
        "color":{"field":"k","type":"nominal","scale":{"domain":["s6","s4","s2","s0"],"range":["#f28cd0","#2f78b8","#9055b5","#ff7f0e"]},
         "legend":{"orient":"none","legendX":62,"legendY":38,"title":null,"labelExpr":"datum.label=='s6'?'Σ⁰Λₘₐₓ ∼ 10⁻⁶':datum.label=='s4'?'Σ⁰Λₘₐₓ ∼ 10⁻⁴':datum.label=='s2'?'Σ⁰Λₘₐₓ ∼ 10⁻²':'Σ⁰Λₘₐₓ ∼ 10⁰'"}}}},
      {"width":203,"height":152,"title":"(n) ‖μÂᵗ₄₂ − A₄₂‖₂",
       "transform":[{"filter":"datum.p=='n'"},{"fold":["s6","s4","s2","s0"],"as":["k","v"]}],
       "mark":{"type":"line","strokeWidth":1.4},
       "encoding":{
        "x":{"field":"x","type":"quantitative","scale":{"domain":[-50,1050],"nice":false},"axis":{"values":[0,200,400,600,800,1000],"format":"d","title":"Number of iterations"}},
        "y":{"field":"v","type":"quantitative","scale":{"domain":[1.583,1.79],"nice":false,"zero":false},"axis":{"values":[1.6,1.625,1.65,1.675,1.7,1.725,1.75,1.775],"format":".3f","title":"‖μÂ₄₂ − A₄₂‖₂"}},
        "color":{"field":"k","type":"nominal","scale":{"domain":["s6","s4","s2","s0"],"range":["#f28cd0","#2f78b8","#9055b5","#ff7f0e"]},
         "legend":{"orient":"none","legendX":68,"legendY":36,"title":null,"labelExpr":"datum.label=='s6'?'Σ⁰Λₘₐₓ ∼ 10⁻⁶':datum.label=='s4'?'Σ⁰Λₘₐₓ ∼ 10⁻⁴':datum.label=='s2'?'Σ⁰Λₘₐₓ ∼ 10⁻²':'Σ⁰Λₘₐₓ ∼ 10⁰'"}}}},
      {"width":203,"height":152,"title":"(o) ‖μÂᵗ₄₃ − A₄₃‖₂",
       "transform":[{"filter":"datum.p=='o'"},{"fold":["s6","s4","s2","s0"],"as":["k","v"]}],
       "mark":{"type":"line","strokeWidth":1.4},
       "encoding":{
        "x":{"field":"x","type":"quantitative","scale":{"domain":[-50,1050],"nice":false},"axis":{"values":[0,200,400,600,800,1000],"format":"d","title":"Number of iterations"}},
        "y":{"field":"v","type":"quantitative","scale":{"domain":[1.461,2.229],"nice":false,"zero":false},"axis":{"values":[1.5,1.6,1.7,1.8,1.9,2.0,2.1,2.2],"format":".1f","title":"‖μÂ₄₃ − A₄₃‖₂"}},
        "color":{"field":"k","type":"nominal","scale":{"domain":["s6","s4","s2","s0"],"range":["#f28cd0","#2f78b8","#9055b5","#ff7f0e"]},
         "legend":{"orient":"none","legendX":4,"legendY":38,"title":null,"labelExpr":"datum.label=='s6'?'Σ⁰Λₘₐₓ ∼ 10⁻⁶':datum.label=='s4'?'Σ⁰Λₘₐₓ ∼ 10⁻⁴':datum.label=='s2'?'Σ⁰Λₘₐₓ ∼ 10⁻²':'Σ⁰Λₘₐₓ ∼ 10⁰'"}}}},
      {"width":203,"height":152,"title":"(p) ‖μÂᵗ₄₅ − A₄₅‖₂",
       "transform":[{"filter":"datum.p=='p'"},{"fold":["s6","s4","s2","s0"],"as":["k","v"]}],
       "mark":{"type":"line","strokeWidth":1.4},
       "encoding":{
        "x":{"field":"x","type":"quantitative","scale":{"domain":[-50,1050],"nice":false},"axis":{"values":[0,200,400,600,800,1000],"format":"d","title":"Number of iterations"}},
        "y":{"field":"v","type":"quantitative","scale":{"domain":[2.043,2.496],"nice":false,"zero":false},"axis":{"values":[2.1,2.2,2.3,2.4],"format":".1f","title":"‖μÂ₄₅ − A₄₅‖₂"}},
        "color":{"field":"k","type":"nominal","scale":{"domain":["s6","s4","s2","s0"],"range":["#f28cd0","#2f78b8","#9055b5","#ff7f0e"]},
         "legend":{"orient":"none","legendX":4,"legendY":38,"title":null,"labelExpr":"datum.label=='s6'?'Σ⁰Λₘₐₓ ∼ 10⁻⁶':datum.label=='s4'?'Σ⁰Λₘₐₓ ∼ 10⁻⁴':datum.label=='s2'?'Σ⁰Λₘₐₓ ∼ 10⁻²':'Σ⁰Λₘₐₓ ∼ 10⁰'"}}}}
    ], "spacing": 30, "bounds": "flush", "resolve": {"scale": {"color": "independent"}, "legend": {"color": "independent"}}},
    {"hconcat": [
      {"width":203,"height":152,"title":"(q) ‖μÂᵗ₅₁ − A₅₁‖₂",
       "transform":[{"filter":"datum.p=='q'"},{"fold":["s6","s4","s2","s0"],"as":["k","v"]}],
       "mark":{"type":"line","strokeWidth":1.4},
       "encoding":{
        "x":{"field":"x","type":"quantitative","scale":{"domain":[-50,1050],"nice":false},"axis":{"values":[0,200,400,600,800,1000],"format":"d","title":"Number of iterations"}},
        "y":{"field":"v","type":"quantitative","scale":{"domain":[1.283,2.131],"nice":false,"zero":false},"axis":{"values":[1.3,1.4,1.5,1.6,1.7,1.8,1.9,2.0,2.1],"format":".1f","title":"‖μÂ₅₁ − A₅₁‖₂"}},
        "color":{"field":"k","type":"nominal","scale":{"domain":["s6","s4","s2","s0"],"range":["#f28cd0","#2f78b8","#9055b5","#ff7f0e"]},
         "legend":{"orient":"none","legendX":120,"legendY":4,"title":null,"labelExpr":"datum.label=='s6'?'Σ⁰Λₘₐₓ ∼ 10⁻⁶':datum.label=='s4'?'Σ⁰Λₘₐₓ ∼ 10⁻⁴':datum.label=='s2'?'Σ⁰Λₘₐₓ ∼ 10⁻²':'Σ⁰Λₘₐₓ ∼ 10⁰'"}}}},
      {"width":203,"height":152,"title":"(r) ‖μÂᵗ₅₂ − A₅₂‖₂",
       "transform":[{"filter":"datum.p=='r'"},{"fold":["s6","s4","s2","s0"],"as":["k","v"]}],
       "mark":{"type":"line","strokeWidth":1.4},
       "encoding":{
        "x":{"field":"x","type":"quantitative","scale":{"domain":[-50,1050],"nice":false},"axis":{"values":[0,200,400,600,800,1000],"format":"d","title":"Number of iterations"}},
        "y":{"field":"v","type":"quantitative","scale":{"domain":[1.527,1.718],"nice":false,"zero":false},"axis":{"values":[1.55,1.575,1.6,1.625,1.65,1.675,1.7],"format":".3f","title":"‖μÂ₅₂ − A₅₂‖₂"}},
        "color":{"field":"k","type":"nominal","scale":{"domain":["s6","s4","s2","s0"],"range":["#f28cd0","#2f78b8","#9055b5","#ff7f0e"]},
         "legend":{"orient":"none","legendX":119,"legendY":4,"title":null,"labelExpr":"datum.label=='s6'?'Σ⁰Λₘₐₓ ∼ 10⁻⁶':datum.label=='s4'?'Σ⁰Λₘₐₓ ∼ 10⁻⁴':datum.label=='s2'?'Σ⁰Λₘₐₓ ∼ 10⁻²':'Σ⁰Λₘₐₓ ∼ 10⁰'"}}}},
      {"width":203,"height":152,"title":"(s) ‖μÂᵗ₅₃ − A₅₃‖₂",
       "transform":[{"filter":"datum.p=='s'"},{"fold":["s6","s4","s2","s0"],"as":["k","v"]}],
       "mark":{"type":"line","strokeWidth":1.4},
       "encoding":{
        "x":{"field":"x","type":"quantitative","scale":{"domain":[-50,1050],"nice":false},"axis":{"values":[0,200,400,600,800,1000],"format":"d","title":"Number of iterations"}},
        "y":{"field":"v","type":"quantitative","scale":{"domain":[0.806,1.395],"nice":false,"zero":false},"axis":{"values":[0.9,1.0,1.1,1.2,1.3],"format":".1f","title":"‖μÂ₅₃ − A₅₃‖₂"}},
        "color":{"field":"k","type":"nominal","scale":{"domain":["s6","s4","s2","s0"],"range":["#f28cd0","#2f78b8","#9055b5","#ff7f0e"]},
         "legend":{"orient":"none","legendX":4,"legendY":73,"title":null,"labelExpr":"datum.label=='s6'?'Σ⁰Λₘₐₓ ∼ 10⁻⁶':datum.label=='s4'?'Σ⁰Λₘₐₓ ∼ 10⁻⁴':datum.label=='s2'?'Σ⁰Λₘₐₓ ∼ 10⁻²':'Σ⁰Λₘₐₓ ∼ 10⁰'"}}}},
      {"width":203,"height":152,"title":"(t) ‖μÂᵗ₅₄ − A₅₄‖₂",
       "transform":[{"filter":"datum.p=='t'"},{"fold":["s6","s4","s2","s0"],"as":["k","v"]}],
       "mark":{"type":"line","strokeWidth":1.4},
       "encoding":{
        "x":{"field":"x","type":"quantitative","scale":{"domain":[-50,1050],"nice":false},"axis":{"values":[0,200,400,600,800,1000],"format":"d","title":"Number of iterations"}},
        "y":{"field":"v","type":"quantitative","scale":{"domain":[1.009,1.471],"nice":false,"zero":false},"axis":{"values":[1.1,1.2,1.3,1.4],"format":".1f","title":"‖μÂ₅₄ − A₅₄‖₂"}},
        "color":{"field":"k","type":"nominal","scale":{"domain":["s6","s4","s2","s0"],"range":["#f28cd0","#2f78b8","#9055b5","#ff7f0e"]},
         "legend":{"orient":"none","legendX":119,"legendY":3,"title":null,"labelExpr":"datum.label=='s6'?'Σ⁰Λₘₐₓ ∼ 10⁻⁶':datum.label=='s4'?'Σ⁰Λₘₐₓ ∼ 10⁻⁴':datum.label=='s2'?'Σ⁰Λₘₐₓ ∼ 10⁻²':'Σ⁰Λₘₐₓ ∼ 10⁰'"}}}}
    ], "spacing": 30, "bounds": "flush", "resolve": {"scale": {"color": "independent"}, "legend": {"color": "independent"}}}
  ],
  "config": {
    "font": "Liberation Serif",
    "view": {"stroke": "#000", "strokeWidth": 1},
    "axis": {"labelFont": "DejaVu Sans", "labelFontSize": 4, "labelColor": "#333", "labelPadding": 1, "tickSize": 2, "tickColor": "#000", "domain": false, "gridColor": "#b0b0b0", "gridWidth": 0.9, "titleFont": "Liberation Serif", "titleFontSize": 10, "titleFontWeight": "normal", "titleColor": "#222"},
    "axisX": {"titlePadding": 3},
    "axisY": {"titlePadding": 7},
    "legend": {"labelFont": "Liberation Serif", "labelFontSize": 8.5, "labelColor": "#222", "symbolType": "stroke", "symbolSize": 250, "symbolStrokeWidth": 1.5, "fillColor": "rgba(255,255,255,0.8)", "strokeColor": "#d4d4d4", "cornerRadius": 3, "padding": 4, "rowPadding": 4, "labelOffset": 5},
    "title": {"orient": "bottom", "font": "Liberation Serif", "fontSize": 13, "fontWeight": "normal", "color": "#111", "offset": 16}
  }
}
